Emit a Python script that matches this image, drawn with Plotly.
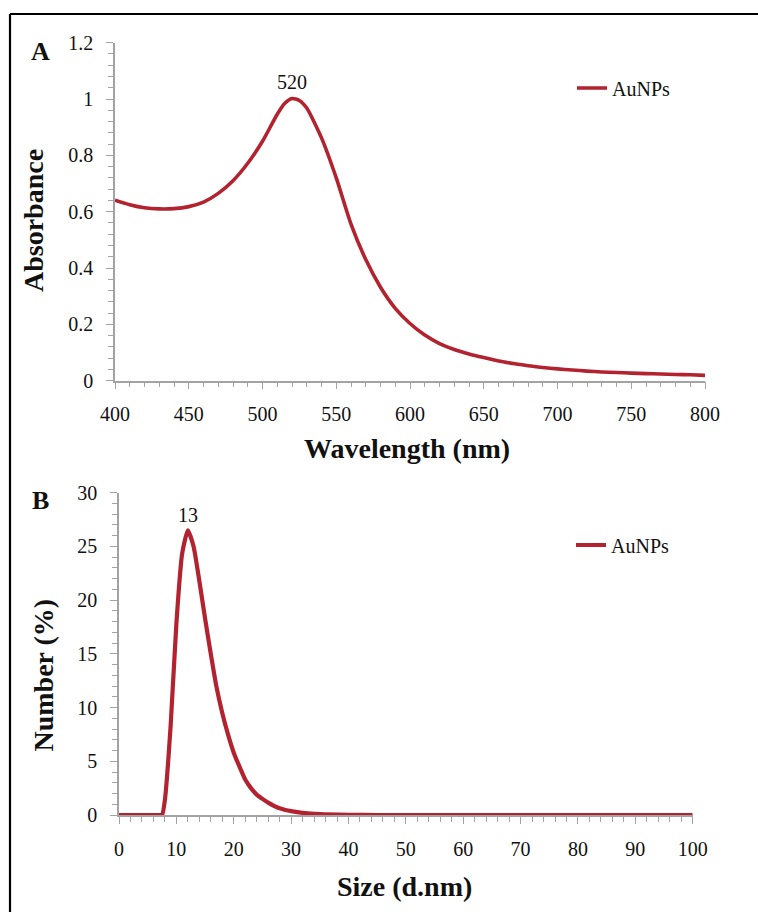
import plotly.graph_objects as go

# ---- UV-Vis spectrum of the gold nanoparticles (panel A) ----
wavelength = [400, 410, 420, 430, 440, 450, 460, 470, 480, 490, 500, 510, 515,
              520, 525, 530, 540, 550, 560, 570, 580, 590, 600, 610, 620, 630,
              640, 650, 660, 670, 680, 690, 700, 710, 720, 730, 740, 750, 760,
              770, 780, 790, 800]
absorbance = [0.641, 0.625, 0.614, 0.610, 0.611, 0.618, 0.634, 0.665, 0.710,
              0.772, 0.850, 0.946, 0.984, 1.002, 0.995, 0.968, 0.862, 0.720,
              0.556, 0.430, 0.332, 0.257, 0.203, 0.162, 0.132, 0.111, 0.095,
              0.082, 0.070, 0.061, 0.053, 0.047, 0.042, 0.038, 0.034, 0.031,
              0.029, 0.027, 0.025, 0.024, 0.022, 0.021, 0.019]

# ---- DLS number distribution (panel B) ----
size_nm = [0, 2, 4, 6, 7, 7.5, 8, 9, 10, 11, 12, 13, 14, 15, 16, 17, 18, 19,
           20, 21, 22, 23, 24, 25, 26, 27, 28, 29, 30, 32, 35, 40, 45, 50, 60,
           70, 80, 90, 100]
number_pct = [0, 0, 0, 0, 0, 0, 1.4, 8.3, 17.8, 24.3, 26.5, 25.0, 21.8, 18.3,
              15.0, 11.9, 9.5, 7.5, 5.8, 4.5, 3.3, 2.5, 1.9, 1.5, 1.15, 0.85,
              0.62, 0.47, 0.36, 0.2, 0.08, 0.02, 0, 0, 0, 0, 0, 0, 0]

series_name = "AuNPs"
peak_label_a = "520"
peak_label_b = "13"

W, H = 758, 912
LINE_RED = "#b3232f"
AXIS_GREY = "#a3a3a3"
SERIF = "Liberation Serif, Times New Roman, serif"


def fx(x):
    return x / W


def fy(y):
    return 1 - y / H


fig = go.Figure()

fig.add_trace(go.Scatter(
    x=wavelength, y=absorbance, mode="lines", name=series_name,
    line=dict(color=LINE_RED, width=3.6, shape="spline", smoothing=0.6),
    xaxis="x", yaxis="y", legend="legend", hoverinfo="skip"))

fig.add_trace(go.Scatter(
    x=size_nm, y=number_pct, mode="lines", name=series_name,
    line=dict(color=LINE_RED, width=4.2, shape="spline", smoothing=0.5),
    xaxis="x2", yaxis="y2", legend="legend2", hoverinfo="skip"))

tick_font = dict(family=SERIF, size=20, color="#111111")


def axis_style(**kw):
    base = dict(
        showgrid=False, zeroline=False, showline=True, linecolor=AXIS_GREY,
        linewidth=1.5, ticks="outside", ticklen=7, tickwidth=1.3,
        tickcolor=AXIS_GREY, tickfont=tick_font, fixedrange=True,
        automargin=False,
    )
    base.update(kw)
    return base


minor = lambda d: dict(dtick=d, ticks="outside", ticklen=5, tickwidth=1.2,
                       tickcolor=AXIS_GREY, showgrid=False)

fig.update_layout(
    width=W, height=H, autosize=False,
    margin=dict(l=0, r=0, t=0, b=0, pad=0, autoexpand=False),
    paper_bgcolor="white", plot_bgcolor="rgba(0,0,0,0)",
    font=dict(family=SERIF, color="#111111"),
    xaxis=axis_style(domain=[fx(115), fx(705)], range=[400, 800], tick0=400,
                     dtick=50, minor=minor(10), anchor="y",
                     ticklabelstandoff=8),
    yaxis=axis_style(domain=[fy(380.7), fy(42.7)], range=[0, 1.2], tick0=0,
                     dtick=0.2, minor=minor(0.04), anchor="x",
                     ticklabelstandoff=9),
    xaxis2=axis_style(domain=[fx(119), fx(692.7)], range=[0, 100], tick0=0,
                      dtick=10, minor=minor(2), anchor="y2",
                      ticklabelstandoff=8),
    yaxis2=axis_style(domain=[fy(815), fy(492.7)], range=[0, 30], tick0=0,
                      dtick=5, minor=minor(1), anchor="x2",
                      ticklabelstandoff=9),
    legend=dict(x=fx(572), y=fy(88), xanchor="left", yanchor="middle",
                font=dict(family=SERIF, size=20, color="#111111"),
                bgcolor="rgba(0,0,0,0)", borderwidth=0),
    legend2=dict(x=fx(571), y=fy(545), xanchor="left", yanchor="middle",
                 font=dict(family=SERIF, size=20, color="#111111"),
                 bgcolor="rgba(0,0,0,0)", borderwidth=0),
    showlegend=True,
)

# peak labels anchored on the maxima of each curve
ia = max(range(len(absorbance)), key=lambda i: absorbance[i])
ib = max(range(len(number_pct)), key=lambda i: number_pct[i])

annotations = [
    dict(x=wavelength[ia], y=absorbance[ia], xref="x", yref="y",
         text=peak_label_a, showarrow=False, yanchor="middle", yshift=16,
         font=dict(family=SERIF, size=20, color="#111111")),
    dict(x=size_nm[ib], y=number_pct[ib], xref="x2", yref="y2",
         text=peak_label_b, showarrow=False, yanchor="middle", yshift=15,
         font=dict(family=SERIF, size=20, color="#111111")),
]

bold = lambda s: "<b>" + s + "</b>"
for text, x, y, angle, size in [
    ("Absorbance", 33, 221, -90, 28),
    ("Wavelength (nm)", 407.5, 448, 0, 28),
    ("Number (%)", 42.5, 675, -90, 28),
    ("Size (d.nm)", 404.7, 886, 0, 28),
    ("A", 40.5, 52, 0, 26),
    ("B", 40, 501, 0, 26),
]:
    annotations.append(dict(
        x=fx(x), y=fy(y), xref="paper", yref="paper", text=bold(text),
        showarrow=False, textangle=angle, xanchor="center", yanchor="middle",
        font=dict(family=SERIF, size=size, color="#111111")))

fig.update_layout(annotations=annotations)

# outer frame of the figure (top and left edges)
fig.add_shape(type="line", xref="paper", yref="paper",
              x0=fx(10), x1=1.01, y0=fy(14), y1=fy(14),
              line=dict(color="black", width=2.2))
fig.add_shape(type="line", xref="paper", yref="paper",
              x0=fx(10), x1=fx(10), y0=fy(14), y1=-0.01,
              line=dict(color="black", width=2.2))

fig.write_html("out.html")
